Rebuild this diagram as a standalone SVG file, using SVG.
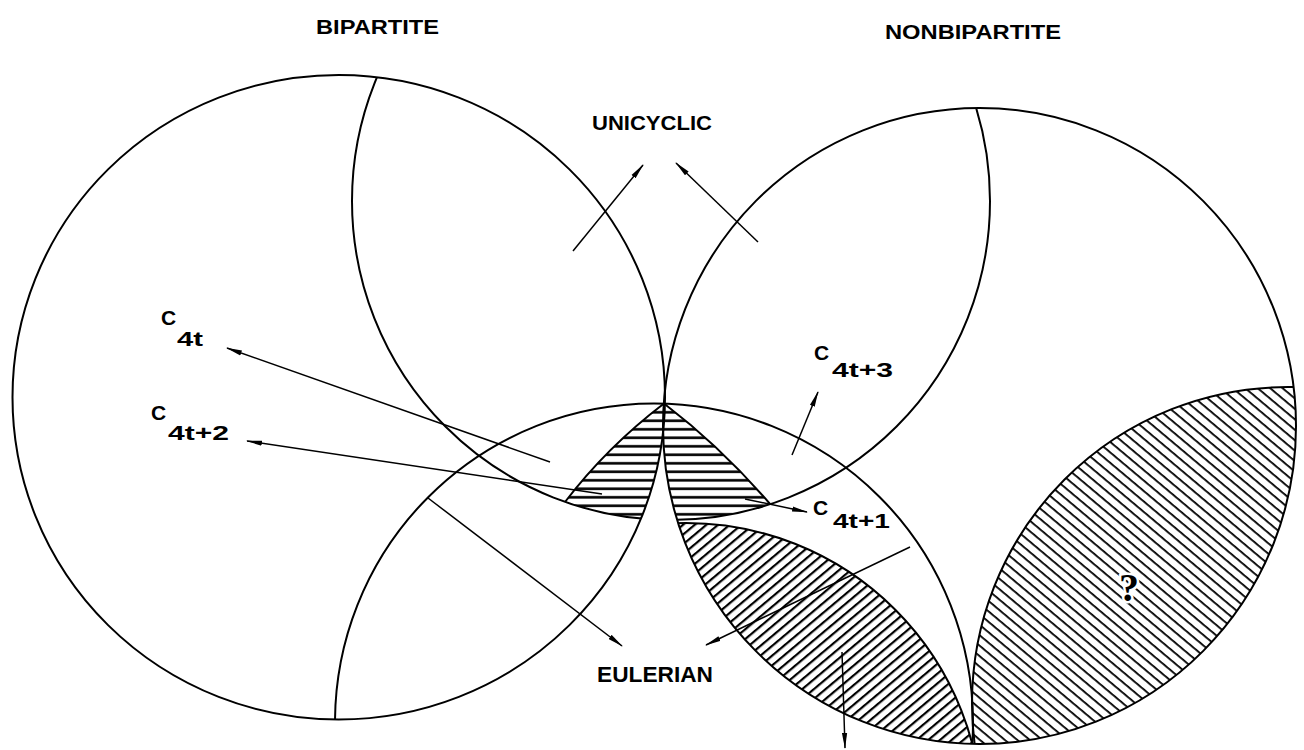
<svg xmlns="http://www.w3.org/2000/svg" width="1304" height="750" viewBox="0 0 1304 750">
<style>
.ln{fill:none;stroke:#000;stroke-width:2}
.ar{fill:none;stroke:#000;stroke-width:1.5;marker-end:url(#ah)}
.lbl{font-family:"Liberation Sans",Arial,sans-serif;font-weight:bold;fill:#000}
.q{font-family:"Liberation Serif","Times New Roman",serif;font-weight:bold;fill:#000;stroke:#fff;stroke-width:5;paint-order:stroke}
</style>
<defs>
<marker id="ah" viewBox="0 0 16 6" markerWidth="16" markerHeight="6" refX="15" refY="3" orient="auto" markerUnits="userSpaceOnUse">
<path d="M0,0.4 L16,3 L0,5.6 Z" fill="#000"/>
</marker>
<clipPath id="cL"><ellipse cx="338.75" cy="397.25" rx="326.25" ry="322.25"/></clipPath>
<clipPath id="cR"><ellipse cx="979.5" cy="426" rx="316.5" ry="318"/></clipPath>
<clipPath id="cLR"><ellipse cx="338.75" cy="397.25" rx="326.25" ry="322.25"/><ellipse cx="979.5" cy="426" rx="316.5" ry="318"/></clipPath>
<clipPath id="cU"><circle cx="671" cy="201" r="319"/></clipPath>
<clipPath id="cE"><circle cx="654" cy="722.5" r="319"/></clipPath>
<clipPath id="cD"><circle cx="686" cy="819" r="296"/></clipPath>
<clipPath id="cQ"><circle cx="1288" cy="703" r="316"/></clipPath>
<clipPath id="cD1"><path d="M664,390 L664,403.5 Q607,447 565,502 L548,524 L650,570 L700,570 L700,390 Z"/></clipPath>
<clipPath id="cD2"><path d="M664,390 L664,403.5 Q721,447 770,504 L786,523 L680,570 L630,570 L630,390 Z"/></clipPath>
<pattern id="hH" patternUnits="userSpaceOnUse" width="12" height="8.5"><rect y="3" width="12" height="2.6" fill="#000"/></pattern>
<pattern id="hD" patternUnits="userSpaceOnUse" width="12" height="7.5" patternTransform="rotate(-40)"><rect width="12" height="2.2" fill="#000"/></pattern>
<pattern id="hQ" patternUnits="userSpaceOnUse" width="12" height="8" patternTransform="rotate(40)"><rect width="12" height="1.8" fill="#000"/></pattern>
</defs>
<rect width="1304" height="750" fill="#fff"/>

<g id="region-c4t2">
<g clip-path="url(#cL)"><g clip-path="url(#cU)"><g clip-path="url(#cE)"><rect x="540" y="390" width="130" height="140" fill="url(#hH)" clip-path="url(#cD1)"/></g></g></g>
<path class="ln" d="M664,403.5 Q607,447 565,502"/>
</g>
<g id="region-c4t1">
<g clip-path="url(#cR)"><g clip-path="url(#cU)"><g clip-path="url(#cE)"><rect x="650" y="390" width="140" height="140" fill="url(#hH)" clip-path="url(#cD2)"/></g></g></g>
<path class="ln" d="M664,403.5 Q721,447 770,504"/>
</g>
<g id="region-eulerian-hatched">
<g clip-path="url(#cR)"><rect x="660" y="510" width="330" height="240" fill="url(#hD)" clip-path="url(#cD)"/></g>
<circle class="ln" cx="686" cy="819" r="296" clip-path="url(#cR)"/>
</g>
<g id="region-unknown">
<g clip-path="url(#cR)"><rect x="960" y="370" width="344" height="380" fill="url(#hQ)" clip-path="url(#cQ)"/></g>
<circle class="ln" cx="1288" cy="703" r="316" clip-path="url(#cR)"/>
<text class="q" x="1129" y="601" font-size="40" text-anchor="middle">?</text>
</g>

<g id="bipartite">
<ellipse class="ln" cx="338.75" cy="397.25" rx="326.25" ry="322.25"/>
<text class="lbl" x="316" y="34" font-size="21" textLength="123" lengthAdjust="spacingAndGlyphs">BIPARTITE</text>
</g>
<g id="nonbipartite">
<ellipse class="ln" cx="979.5" cy="426" rx="316.5" ry="318"/>
<text class="lbl" x="885" y="39" font-size="21" textLength="176" lengthAdjust="spacingAndGlyphs">NONBIPARTITE</text>
</g>
<g id="unicyclic">
<circle class="ln" cx="671" cy="201" r="319" clip-path="url(#cLR)"/>
<text class="lbl" x="592" y="130" font-size="21" textLength="120" lengthAdjust="spacingAndGlyphs">UNICYCLIC</text>
</g>
<g id="eulerian">
<circle class="ln" cx="654" cy="722.5" r="319" clip-path="url(#cLR)"/>
<text class="lbl" x="597" y="682" font-size="22" textLength="116" lengthAdjust="spacingAndGlyphs">EULERIAN</text>
</g>

<g id="label-c4t">
<text class="lbl" x="161" y="325" font-size="21">C</text>
<text class="lbl" x="177" y="346" font-size="20" textLength="26" lengthAdjust="spacingAndGlyphs">4t</text>
</g>
<g id="label-c4t2">
<text class="lbl" x="151" y="420" font-size="21">C</text>
<text class="lbl" x="168" y="440" font-size="20" textLength="61" lengthAdjust="spacingAndGlyphs">4t+2</text>
</g>
<g id="label-c4t3">
<text class="lbl" x="814" y="360" font-size="21">C</text>
<text class="lbl" x="832" y="377" font-size="20" textLength="61" lengthAdjust="spacingAndGlyphs">4t+3</text>
</g>
<g id="label-c4t1">
<text class="lbl" x="813" y="515" font-size="21">C</text>
<text class="lbl" x="833" y="528" font-size="20" textLength="57" lengthAdjust="spacingAndGlyphs">4t+1</text>
</g>

<g id="connectors">
<line class="ar" x1="550" y1="462" x2="227" y2="348"/>
<line class="ar" x1="602" y1="494" x2="247" y2="441"/>
<line class="ar" x1="573" y1="251" x2="643" y2="165"/>
<line class="ar" x1="758" y1="242" x2="676" y2="163"/>
<line class="ar" x1="792" y1="455" x2="818" y2="392"/>
<line class="ar" x1="745" y1="499" x2="807" y2="512"/>
<line class="ar" x1="428" y1="498" x2="622" y2="646"/>
<line class="ar" x1="910" y1="547" x2="706" y2="645"/>
<line class="ar" x1="842" y1="652" x2="845" y2="748"/>
</g>
</svg>
